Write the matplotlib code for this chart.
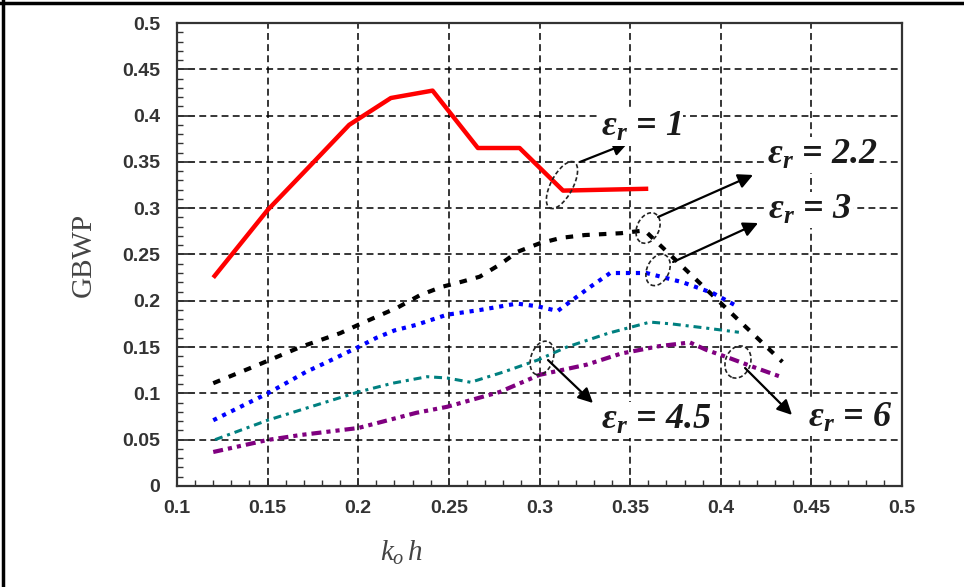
import matplotlib
matplotlib.use("Agg")
import matplotlib.pyplot as plt
from matplotlib.patches import Ellipse
from matplotlib.ticker import MultipleLocator, FuncFormatter
from matplotlib.transforms import ScaledTranslation

# GBWP versus k0*h for several substrate permittivities
koh_er1 = [0.12, 0.15, 0.175, 0.195, 0.218, 0.241, 0.266, 0.289, 0.313, 0.36]
gbwp_er1 = [0.225, 0.298, 0.349, 0.39, 0.419, 0.427, 0.365, 0.365, 0.319, 0.321]

koh_er22 = [0.12, 0.145, 0.168, 0.19, 0.2, 0.222, 0.234, 0.246, 0.256, 0.267,
            0.278, 0.288, 0.3, 0.312, 0.325, 0.345, 0.358, 0.434]
gbwp_er22 = [0.111, 0.131, 0.150, 0.165, 0.174, 0.193, 0.206, 0.215, 0.22, 0.226,
             0.239, 0.253, 0.262, 0.268, 0.271, 0.273, 0.276, 0.134]

koh_er3 = [0.12, 0.15, 0.161, 0.171, 0.183, 0.2, 0.21, 0.22, 0.232, 0.249,
           0.267, 0.2875, 0.299, 0.31, 0.328, 0.339, 0.359, 0.379, 0.396, 0.41]
gbwp_er3 = [0.071, 0.1, 0.112, 0.123, 0.134, 0.150, 0.16, 0.168, 0.174, 0.185,
            0.19, 0.197, 0.194, 0.189, 0.215, 0.23, 0.23, 0.22, 0.208, 0.193]

koh_er45 = [0.121, 0.15, 0.168, 0.2, 0.219, 0.238, 0.249, 0.262, 0.28, 0.299,
            0.315, 0.338, 0.361, 0.373, 0.39, 0.41]
gbwp_er45 = [0.05, 0.071, 0.082, 0.1015, 0.111, 0.118, 0.1166, 0.112, 0.123, 0.136,
             0.150, 0.165, 0.177, 0.175, 0.171, 0.166]

koh_er6 = [0.12, 0.15, 0.168, 0.2, 0.232, 0.249, 0.278, 0.3, 0.326, 0.345,
           0.366, 0.383, 0.392, 0.405, 0.418, 0.433]
gbwp_er6 = [0.0367, 0.0497, 0.055, 0.0626, 0.079, 0.0855, 0.1015, 0.12, 0.131, 0.143,
            0.151, 0.155, 0.147, 0.138, 0.1285, 0.118]

xticks = [0.1, 0.15, 0.2, 0.25, 0.3, 0.35, 0.4, 0.45, 0.5]
yticks = [0, 0.05, 0.1, 0.15, 0.2, 0.25, 0.3, 0.35, 0.4, 0.45, 0.5]

plt.rcParams.update({
    "mathtext.fontset": "custom",
    "mathtext.rm": "Liberation Serif",
    "mathtext.it": "Liberation Serif:italic",
    "mathtext.bf": "Liberation Serif:bold",
    "mathtext.bfit": "Liberation Serif:italic:bold",
})

fig = plt.figure(figsize=(9.64, 5.87), dpi=100)
ax = fig.add_axes([0.1836, 0.1721, 0.7521, 0.7887])

ax.plot(koh_er1, gbwp_er1, color="red", lw=3.2, solid_capstyle="butt", zorder=3)
ax.plot(koh_er22, gbwp_er22, color="black", lw=3,
        linestyle=(0, (1.8, 2.2)), zorder=3)
ax.plot(koh_er3, gbwp_er3, color="blue", lw=3,
        linestyle=(0, (1.0, 1.4)), zorder=3)
ax.plot(koh_er45, gbwp_er45, color="#008080", lw=2.2,
        linestyle=(0, (2.6, 1.6, 1.0, 1.6)), zorder=3)
ax.plot(koh_er6, gbwp_er6, color="#800080", lw=3,
        linestyle=(0, (2.4, 1.2, 1.0, 1.2, 1.0, 1.2)), zorder=3)

ax.set_xlim(0.1, 0.5)
ax.set_ylim(0, 0.5)
ax.set_xticks(xticks)
ax.set_yticks(yticks)
ax.xaxis.set_minor_locator(MultipleLocator(0.01))
ax.yaxis.set_minor_locator(MultipleLocator(0.01))
fmt = FuncFormatter(lambda v, pos: f"{v:g}")
ax.xaxis.set_major_formatter(fmt)
ax.yaxis.set_major_formatter(fmt)

ax.grid(True, which="major", color="black", lw=1.1, linestyle=(0, (4.5, 2.8)))
ax.tick_params(axis="y", which="major", direction="in", length=12, width=1.3,
               pad=12, colors="#333333", labelsize=14)
ax.tick_params(axis="y", which="minor", direction="in", length=4, width=1.0,
               color="#333333")
ax.tick_params(axis="x", which="major", direction="in", length=6, width=1.3,
               pad=10, colors="#333333", labelsize=14)
ax.tick_params(axis="x", which="minor", direction="in", length=4, width=1.0,
               color="#333333")
for lab in ax.get_xticklabels() + ax.get_yticklabels():
    lab.set_fontweight("bold")
    lab.set_family("Liberation Sans")
for sp in ax.spines.values():
    sp.set_linewidth(1.6)
    sp.set_color("#333333")

ax.set_ylabel("GBWP", family="Liberation Serif", fontsize=21, color="#444444")
ax.yaxis.set_label_coords(-0.11, 0.5)
ax.set_xlabel(r"$k_o\,h$", fontsize=21, color="#444444")
ax.xaxis.set_label_coords(0.31, -0.115)

# dashed rings marking each curve, sized in inches around a data point
rings = [
    (0.3124, 0.325, 0.22, 0.52, -28),
    (0.3599, 0.2786, 0.22, 0.32, -25),
    (0.3654, 0.2333, 0.22, 0.33, -25),
    (0.3014, 0.1382, 0.22, 0.35, -20),
    (0.4095, 0.1339, 0.25, 0.33, -20),
]
for cx, cy, w, h, ang in rings:
    tr = fig.dpi_scale_trans + ScaledTranslation(cx, cy, ax.transData)
    ax.add_patch(Ellipse((0, 0), w, h, angle=ang, transform=tr, fill=False,
                         ec="#222222", lw=1.2, linestyle=(0, (2.5, 1.5)),
                         zorder=4))

labels = [
    (r"$\mathbfit{\varepsilon}_{\mathbfit{r}}$ = 1", 0.356, 0.387,
     (0.3224, 0.350), (0.3488, 0.3704)),
    (r"$\mathbfit{\varepsilon}_{\mathbfit{r}}$ = 2.2", 0.4559, 0.3575,
     (0.3654, 0.2905), (0.4178, 0.3359)),
    (r"$\mathbfit{\varepsilon}_{\mathbfit{r}}$ = 3", 0.4492, 0.298,
     (0.3737, 0.2419), (0.4206, 0.284)),
    (r"$\mathbfit{\varepsilon}_{\mathbfit{r}}$ = 4.5", 0.3643, 0.0713,
     (0.3047, 0.136), (0.3295, 0.0896)),
    (r"$\mathbfit{\varepsilon}_{\mathbfit{r}}$ = 6", 0.4713, 0.0734,
     (0.4134, 0.1274), (0.4393, 0.0767)),
]
for text, tx, ty, tail, head in labels:
    ax.text(tx, ty, text, family="Liberation Serif", weight="bold",
            style="italic", fontsize=26, color="#1a1a1a", ha="center",
            va="center", zorder=6,
            bbox=dict(fc="white", ec="none", pad=1))
    ax.annotate("", xy=head, xytext=tail,
                arrowprops=dict(arrowstyle="-|>", color="black", lw=1.6,
                                mutation_scale=22, shrinkA=0, shrinkB=0),
                zorder=5)

# frame lines along the top and left edge of the figure
fig.add_artist(plt.Line2D([0, 1], [0.995, 0.995], color="black", lw=2.5,
                          transform=fig.transFigure))
fig.add_artist(plt.Line2D([0.003, 0.003], [0, 1], color="black", lw=2.5,
                          transform=fig.transFigure))

fig.savefig("out.png", dpi=100)
